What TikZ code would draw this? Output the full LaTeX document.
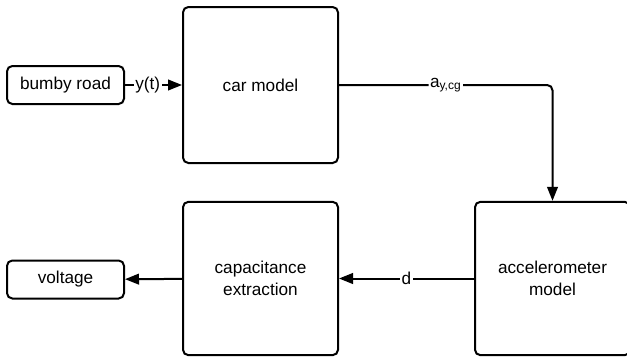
\documentclass[tikz,border=0pt]{standalone}
\usepackage{fontspec}
\setmainfont{Liberation Sans}
\usetikzlibrary{arrows.meta,positioning}

\begin{document}
\begin{tikzpicture}[x=0.75pt, y=-0.75pt,
    block/.style={draw, line width=1.5pt, rounded corners=4pt, minimum width=116.25pt, minimum height=115pt, align=center, font=\fontsize{12.9}{16.5}\selectfont},
    port/.style={draw, line width=1.5pt, rounded corners=4pt, minimum width=87.75pt, minimum height=28.5pt, align=center, font=\fontsize{12.9}{16.5}\selectfont},
    link/.style={line width=1.5pt, -{Triangle[length=10.5pt, width=8pt]}},
    tag/.style={fill=white, inner sep=1pt, font=\fontsize{12.9}{16.5}\selectfont}
]
\useasboundingbox (0,0) rectangle (627,357);
\clip (0,0) rectangle (627,357);
\node[port] (road) at (65.5,85) {bumby road};
\node[block, minimum height=117pt] (car) at (260.5,85) {car model};
\node[block] (accel) at (552.5,278.5) {accelerometer\\model};
\node[block] (cap) at (260.5,278.5) {capacitance\\extraction};
\node[port] (volt) at (65.5,279.5) {voltage};
\draw[link] (road) -- node[tag, pos=0.4] {y(t)} (car);
\draw[link, rounded corners=4pt] (car.east) -| node[tag, pos=0.25] {a\textsubscript{y,cg}} (accel.north);
\draw[link] (accel) -- node[tag] {d} (cap);
\draw[link] (cap) -- (volt);
\end{tikzpicture}
\end{document}
